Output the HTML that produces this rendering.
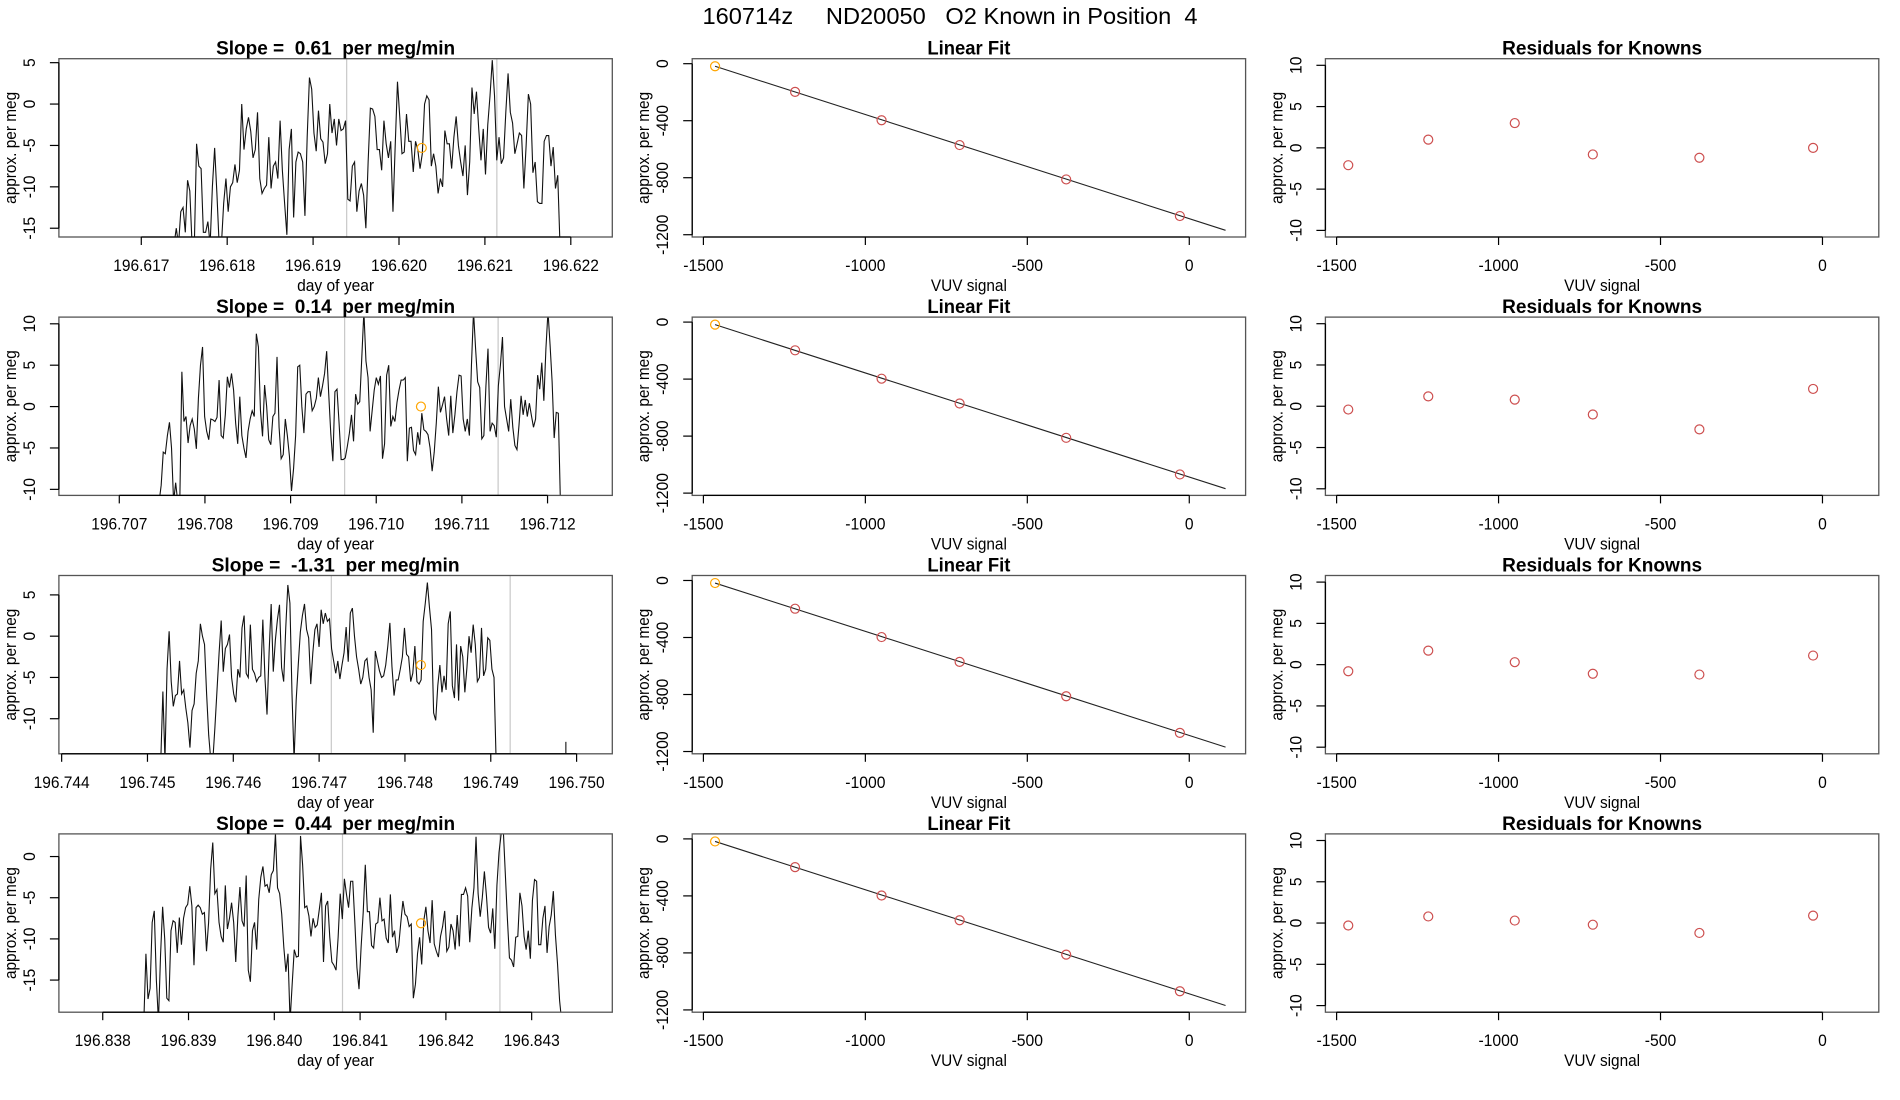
<!DOCTYPE html>
<html><head><meta charset="utf-8">
<style>
html,body{margin:0;padding:0;background:#fff;}
svg{display:block;font-family:"Liberation Sans",Arial,sans-serif;}
text{white-space:pre;}
</style></head>
<body>
<svg id="chart" width="1900" height="1100" viewBox="0 0 1900 1100" xmlns="http://www.w3.org/2000/svg">
<rect x="0" y="0" width="1900" height="1100" fill="#fff"/>
<text x="950" y="24" font-size="23" text-anchor="middle" textLength="495" lengthAdjust="spacingAndGlyphs">160714z     ND20050   O2 Known in Position  4</text>
</svg>
<script>
// ---- data ----
const slopeLabels = ["0.61", "0.14", "-1.31", "0.44"];
const tsStart = [196.617381, 196.707465, 196.745131, 196.838479];
const tsEnd = [196.621874, 196.712150, 196.749062, 196.843350];
const tsTicks = [
  [196.617,196.618,196.619,196.620,196.621,196.622],
  [196.707,196.708,196.709,196.710,196.711,196.712],
  [196.744,196.745,196.746,196.747,196.748,196.749,196.750],
  [196.838,196.839,196.840,196.841,196.842,196.843]];
const tsTickLabels = [
  ["196.617","196.618","196.619","196.620","196.621","196.622"],
  ["196.707","196.708","196.709","196.710","196.711","196.712"],
  ["196.744","196.745","196.746","196.747","196.748","196.749","196.750"],
  ["196.838","196.839","196.840","196.841","196.842","196.843"]];
const tsXDomain = [[196.616041,196.622483],[196.706295,196.712756],[196.743968,196.750416],[196.837489,196.843940]];
const tsYDomain = [[-16.06,5.48],[-10.73,10.81],[-14.25,7.35],[-18.9,2.75]];
const tsYTicks = [[-15,-10,-5,0,5],[-10,-5,0,5,10],[-10,-5,0,5],[-15,-10,-5,0]];
const markerTimes = [[196.619391,196.621139],[196.709631,196.711423],[196.747142,196.749226],[196.840795,196.842630]];
const knownTime = [196.620265, 196.710522, 196.748186, 196.841710];
const knownValue = [-5.3, 0, -3.5, -8.1];
const strayTime = [null, null, 196.749875, null];
const strayValue = [null, null, -12.8, null];

const series1 = [-17,-15,-17,-13,-12.5,-15.5,-9.2,-10.5,-17,-17,-4.8,-7.5,-7.8,-15.5,-15.5,-14.2,-17,-10,-5.3,-10.8,-17,-17,-12,-9,-13,-10,-9.5,-7.3,-9.5,-8,0,-5.5,-3,-1.6,-3.3,-6.5,-5.5,-1,-9,-10.8,-10.2,-9.8,-4,-10.2,-7.5,-7,-9,-2,-8,-12,-15.8,-5.5,-3,-13.7,-7,-5.8,-6,-7,-13.5,-4,3.2,1.8,-3.5,-5.7,-0.8,-4.2,-4.6,-7.2,-6,0,-3.5,-1.8,-5,-1.8,-3.2,-3,-2,-11.5,-11.7,-7.5,-7,-13,-10.5,-9.6,-11,-15,-7,-0.5,-0.6,-1.5,-5.5,-5.5,-8,-2,-4.8,-6.5,-4.5,-13,-5,2.7,-1.5,-6,-5.8,-1.2,-4.5,-4.5,-8.2,-4.5,-5.5,-7.8,-6,0,1,0.5,-7.5,-6,-7.5,-10.8,-9,-10,-3.2,-4.8,-4.8,-7.8,-4,-1.5,-5,-7,-8.7,-5,-11,-7,2,-1.2,1.5,-3,-6.8,-3,-8.5,-2.5,1,5.3,1,-6.8,-4,-7.2,-6.5,-1,3.7,-1,-2.3,-6,-4.8,-3.5,-3.8,-10.2,-5,1.2,0,-8.3,-7,-11.8,-12,-12,-4.5,-3.8,-3.8,-7.5,-5.2,-10.2,-8.6,-17];
const series2 = [-11.5,-9.5,-5.5,-5.7,-3.5,-1.9,-5,-11.5,-9.2,-11.5,-11.5,4.2,-1.8,-1.2,-4.4,-2.3,-1.5,-2.7,-5.1,1,5,7.2,-1.2,-3,-4,-1.5,-1.6,-1.8,-1.3,3.2,-3.5,-3.8,-1,3.6,2.3,4,2,-2,-4.5,1.2,-3.5,-5,-6.2,-3,-1.5,-0.5,-1.2,8.8,7.2,-0.5,-3.6,2.6,0,-4,-4.6,-1.2,-0.8,6,-2.5,-6.3,-5.8,-1.5,-3.5,-6,-10.2,-7.5,-3.5,4.8,5,0,-3.2,1.5,1.8,1.8,-0.5,0,1,3.5,1.2,2.5,4,6.7,1.5,-3.3,-6.6,1.8,2.1,-2,-6.4,-6.4,-6.2,-4.8,-3.2,-1,-4.2,1.5,0.3,0.6,6,11.5,5.5,3.5,-3,-0.5,2,3.5,2.7,3.7,-6.3,-4.5,3.8,5,-2.4,-1.2,-1.8,0.5,2,3.2,3.2,3.5,-6.6,-2.6,-2.5,-5.3,-5.8,-3.1,-4.6,-0.8,-2.8,-3,-3.4,-5,-7.8,-5.5,-2,2.4,-0.7,0.2,1.2,-1.5,-3.5,1.3,-3.2,-1,1.8,3.8,3.7,-1.5,-3,-1.5,-3.5,5,11.5,7,3,2.3,-3.9,-3.5,2.5,7,-3,-2,-2.3,-3.7,2.5,5,8.4,0,-1.5,-3,0.9,-2.5,-4.7,-5.2,-2.2,1.3,-1,0.8,-1.2,0.4,-1.1,-2.5,-1.5,3.8,2.1,5.3,0.7,7,11.5,7.5,3,-3.8,-0.7,-0.8,-11.5];
const series3 = [-15,-15,-6.7,-15,-4,0.6,-5.5,-8.5,-7.2,-7,-3,-7,-6.5,-8.7,-10.5,-13.5,-9,-8.2,-4.5,-3,1.5,0,-1,-7,-12,-15,-15,-11,-6.5,-2,1.9,-4.3,-1.5,-1,0.2,-5,-7,-8,-4,-5,1,2.5,-4.5,-5,1.4,-4,-4.5,-5.5,-5,-4.8,2,-5,-9.5,-2,3.9,-4.3,-0.5,2,3.8,-3.8,-5.5,1,6.2,4,-7,-15,-7.8,-3.5,0.5,2.5,3.9,0.8,-0.2,-5.8,-2,0.8,1.5,-1.3,3.2,1.5,2.8,1.8,2.1,-1.5,-3,-4.5,-3,-5.2,-3.5,-2,1.1,-3.1,2.8,3.4,0,-2.5,-4,-5.8,-5,-3,-2.7,-5,-6.5,-11.7,-1.8,-3,-4.2,-5,-4.8,-3.5,-1.2,1.6,-3.7,-7.2,-5.3,-5.3,-4,-2.5,1,-2.2,-2.5,-5.5,-4.5,-1.2,-5.5,-5.8,-5.3,1.8,4,6.5,3.5,0.8,-9.3,-10.2,-6,-3.5,-6.8,-4.8,-6.5,1.5,3,-6,-7.5,-1,-7.8,-1.2,-2.5,-6.8,-3.8,0,-2,1.4,-1,-5.5,-5,1,-4.8,-4,-0.2,-0.5,-4,-5,-15];
const series4 = [-20,-11.8,-17.3,-16,-8,-6.6,-15,-20,-12,-6.1,-10,-17.2,-17.5,-9,-7.8,-8,-11.7,-7.4,-10.7,-7.5,-6.2,-5.8,-3.6,-6,-13.2,-6.2,-5.9,-6.2,-7,-6.8,-11.5,-8,-1.5,1.7,-4.5,-4,-8,-9.7,-10.4,-3.5,-8.8,-7.5,-5.6,-8,-12.8,-7.3,-3.7,-7.8,-8.5,-2.3,-13.8,-15.2,-9,-8,-11.3,-5.2,-2.5,-1.2,-3.6,-3.4,-4.4,-2.2,-1.7,2.8,-3.8,-4.5,-7,-11,-14,-11.8,-20,-15.5,-11.3,-12.2,-12.1,2.5,-1,-6.2,-6,-7.2,-9.7,-7.5,-8.6,-8.3,-6.4,-4.4,-12.8,-6,-5.4,-9.8,-12.8,-13.2,-13.8,-9.8,-4.5,-7.6,-2.7,-4.6,-6.2,-3,-3,-8,-13.5,-16.1,-11,-6.8,-1,-6.7,-6.7,-10.8,-11.1,-8.2,-8,-5,-7.8,-7.6,-9.9,-10.5,-4.6,-9.8,-9,-11.7,-10.8,-8,-5.4,-7,-7.3,-8.5,-8.2,-17.2,-15.5,-11.8,-9.8,-13.1,-7.8,-6.1,-9,-10.5,-5.3,-10.6,-11.5,-12.2,-9.7,-8.5,-6.6,-11.5,-11,-8.2,-9,-11.3,-7.1,-10.9,-4.6,-4.6,-3.8,-4.8,-10.4,-6.3,-3.8,2.4,-4.5,-7.3,-5,-1.8,-4.8,-8.6,-9.3,-6.3,-11.2,-3.5,0.5,2.7,3.5,-2,-7.5,-12.3,-12.6,-13.4,-9.8,-9.7,-4.4,-6,-9.7,-11.3,-9,-12.4,-5.3,-2.8,-3,-10.7,-10.7,-7.5,-6,-11.7,-8.5,-7.1,-4.2,-9.5,-13,-17.5,-20];
const tsValues = [series1, series2, series3, series4];

const fitX = [-1464, -1217, -950, -709, -380, -29];
const fitY = [-18, -198, -397, -571, -812, -1069];
const fitIntercept = -1087.2;
const fitSlope = -0.7303;
const fitLineX = [-1464, 112];
const fitXTicks = [-1500, -1000, -500, 0];
const fitYTicks = [0, -400, -800, -1200];
const fitXDomain = [-1534.6, 173.9];
const fitYDomain = [-1216, 35];
const resid = [
  [-2.1, 1.0, 3.0, -0.8, -1.2, 0.0],
  [-0.4, 1.2, 0.8, -1.0, -2.8, 2.1],
  [-0.8, 1.7, 0.3, -1.1, -1.2, 1.1],
  [-0.3, 0.8, 0.3, -0.2, -1.2, 0.9]];
const residYTicks = [-10, -5, 0, 5, 10];
const residYDomain = [-10.8, 10.8];

// ---- drawing ----
const NS = "http://www.w3.org/2000/svg";
const svg = document.getElementById("chart");
function mk(tag, attrs, parent) {
  const e = document.createElementNS(NS, tag);
  for (const k in attrs) e.setAttribute(k, attrs[k]);
  (parent || svg).appendChild(e);
  return e;
}
function tw(s, d) { let w = 0; for (const c of s) w += (c === '-' ? d*0.62 : c === '.' ? d*0.45 : d); return w; }
function lin(d0, d1, r0, r1) { return v => r0 + (v - d0) / (d1 - d0) * (r1 - r0); }

const colL = [58.9, 692.2, 1325.4], W = 553.4, H = 178.3, rowTop0 = 58.7, pitch = 258.4;

function frame(g, x0, y0, xs, ys, xticks, xlabels, yticks, ylabels, xt, yl, title, bold, xtw) {
  const box = mk("rect", {x:x0, y:y0, width:W, height:H, fill:"none", stroke:"#555", "stroke-width":1.3}, g);
  
  
  const yb = y0 + H;
  const xa = mk("g", {}, g);
  
  
  mk("line", {x1:xs(xticks[0]), x2:xs(xticks[xticks.length-1]), y1:yb, y2:yb, stroke:"#000", "stroke-width":1.3}, xa);
  xticks.forEach((t, i) => {
    const x = xs(t);
    mk("line", {x1:x, x2:x, y1:yb, y2:yb+8, stroke:"#000", "stroke-width":1.2}, xa);
    const tx = mk("text", {x:x, y:yb+34, "font-size":17, "text-anchor":"middle", textLength:tw(xlabels[i],8.7), lengthAdjust:"spacingAndGlyphs"}, xa);
    tx.textContent = xlabels[i];
    
    
  });
  const ya = mk("g", {}, g);
  
  
  const ymin = Math.min(...yticks), ymax = Math.max(...yticks);
  mk("line", {x1:x0, x2:x0, y1:ys(ymin), y2:ys(ymax), stroke:"#000", "stroke-width":1.3}, ya);
  yticks.forEach((t, i) => {
    const y = ys(t);
    mk("line", {x1:x0, x2:x0-9, y1:y, y2:y, stroke:"#000", "stroke-width":1.2}, ya);
    const tx = mk("text", {x:0, y:0, "font-size":17, "text-anchor":"middle", transform:`translate(${x0-24},${y}) rotate(-90)`, textLength:tw(ylabels[i],8.7), lengthAdjust:"spacingAndGlyphs"}, ya);
    tx.textContent = ylabels[i];
    
    
  });
  const xl = mk("text", {x:x0+W/2, y:yb+54, "font-size":17, "text-anchor":"middle", textLength:xtw, lengthAdjust:"spacingAndGlyphs"}, g);
  xl.textContent = xt;
  
  
  const ylab = mk("text", {x:0, y:0, "font-size":17, "text-anchor":"middle", transform:`translate(${x0-43},${y0+H/2}) rotate(-90)`, textLength:112, lengthAdjust:"spacingAndGlyphs"}, g);
  ylab.textContent = yl;
  
  
  const tt = mk("text", {x:x0+W/2, y:y0-4, "font-size":19, "font-weight":"bold", "text-anchor":"middle", textLength:bold, lengthAdjust:"spacingAndGlyphs"}, g);
  tt.textContent = title;
  
  
}

for (let r = 0; r < 4; r++) {
  const y0 = rowTop0 + pitch * r;
  {
    const x0 = colL[0];
    const g = mk("g", {});
    
    
    const xs = lin(tsXDomain[r][0], tsXDomain[r][1], x0, x0+W);
    const ys = lin(tsYDomain[r][0], tsYDomain[r][1], y0+H, y0);
    const cid = "clip" + r;
    const cp = mk("clipPath", {id:cid}, g);
    mk("rect", {x:x0, y:y0, width:W, height:H}, cp);
    markerTimes[r].forEach(t => {
      const l = mk("line", {x1:xs(t), x2:xs(t), y1:y0, y2:y0+H, stroke:"#c8c8c8", "stroke-width":1.2}, g);
      
      
    });
    const vals = tsValues[r], n = vals.length;
    let d = "";
    vals.forEach((v, i) => {
      const t = tsStart[r] + (tsEnd[r] - tsStart[r]) * i / (n - 1);
      d += (i ? "L" : "M") + xs(t).toFixed(2) + "," + ys(v).toFixed(2);
    });
    const p = mk("path", {d:d, fill:"none", stroke:"#111", "stroke-width":1.1, "clip-path":`url(#${cid})`}, g);
    
    
    if (strayTime[r] !== null) {
      const s = mk("line", {x1:xs(strayTime[r]), x2:xs(strayTime[r]), y1:ys(strayValue[r]), y2:y0+H, stroke:"#111", "stroke-width":1.1}, g);
      
      
    }
    const k = mk("circle", {cx:xs(knownTime[r]), cy:ys(knownValue[r]), r:4.5, fill:"none", stroke:"#ffa500", "stroke-width":1.2}, g);
    
    
    frame(g, x0, y0, xs, ys, tsTicks[r], tsTickLabels[r], tsYTicks[r], tsYTicks[r].map(String),
          "day of year", "approx. per meg", "Slope =  " + slopeLabels[r] + "  per meg/min", slopeLabels[r].length > 4 ? 248 : 239, 77);
  }
  {
    const x0 = colL[1];
    const g = mk("g", {});
    
    
    const xs = lin(fitXDomain[0], fitXDomain[1], x0, x0+W);
    const ys = lin(fitYDomain[0], fitYDomain[1], y0+H, y0);
    const l = mk("line", {x1:xs(fitLineX[0]), y1:ys(fitIntercept + fitSlope*fitLineX[0]), x2:xs(fitLineX[1]), y2:ys(fitIntercept + fitSlope*fitLineX[1]), stroke:"#222", "stroke-width":1.1}, g);
    
    
    fitX.forEach((x, i) => {
      const c = mk("circle", {cx:xs(x), cy:ys(fitY[i]), r:4.5, fill:"none", stroke:i === 0 ? "#ffa500" : "#cd4f4f", "stroke-width":1.2}, g);
      
      
    });
    frame(g, x0, y0, xs, ys, fitXTicks, fitXTicks.map(String), fitYTicks, fitYTicks.map(String),
          "VUV signal", "approx. per meg", "Linear Fit", 83, 76);
  }
  {
    const x0 = colL[2];
    const g = mk("g", {});
    
    
    const xs = lin(fitXDomain[0], fitXDomain[1], x0, x0+W);
    const ys = lin(residYDomain[0], residYDomain[1], y0+H, y0);
    fitX.forEach((x, i) => {
      const c = mk("circle", {cx:xs(x), cy:ys(resid[r][i]), r:4.5, fill:"none", stroke:"#cd4f4f", "stroke-width":1.2}, g);
      
      
    });
    frame(g, x0, y0, xs, ys, fitXTicks, fitXTicks.map(String), residYTicks, residYTicks.map(String),
          "VUV signal", "approx. per meg", "Residuals for Knowns", 200, 76);
  }
}
</script>
</body></html>
